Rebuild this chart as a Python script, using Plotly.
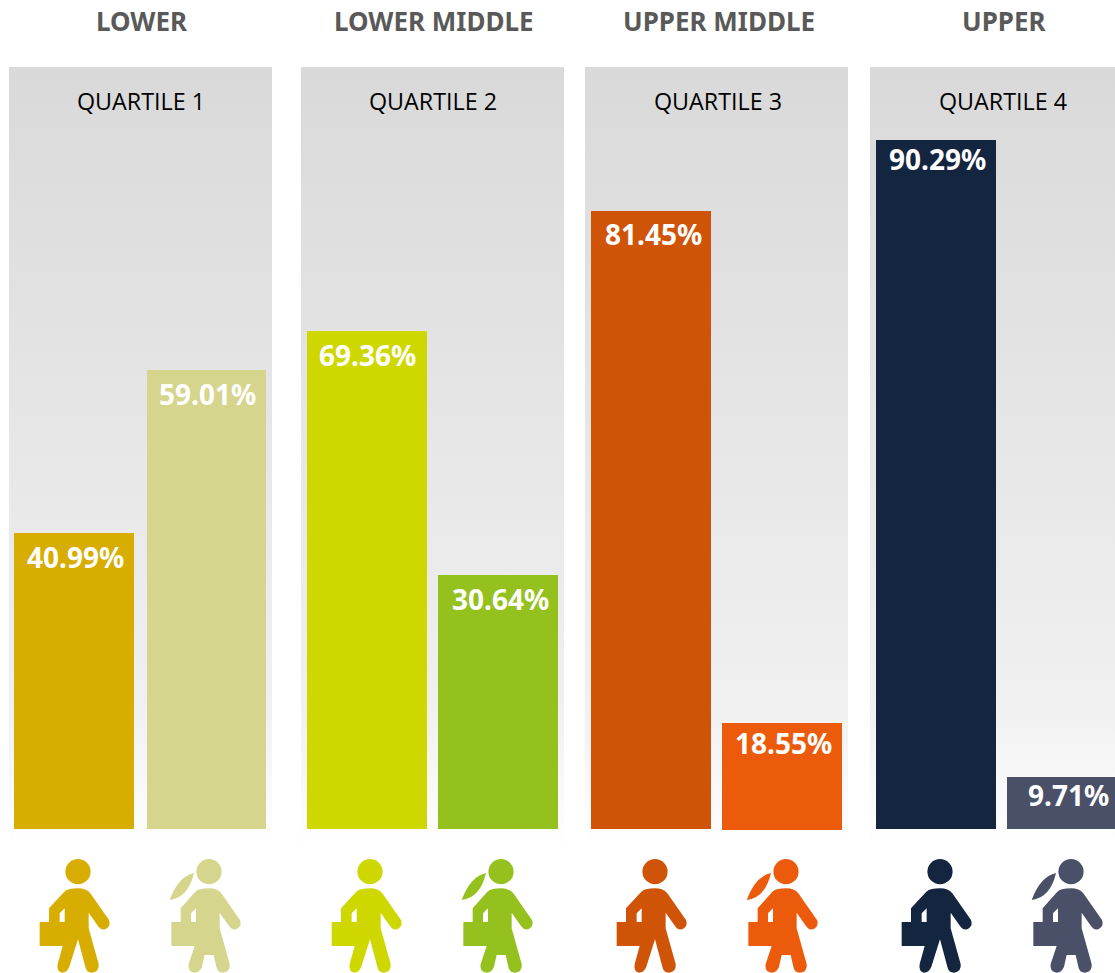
import plotly.graph_objects as go

W, H = 1115, 973
PX_PER_UNIT = 7.63
BASE_PX = 829

group_titles = ["LOWER", "LOWER MIDDLE", "UPPER MIDDLE", "UPPER"]
quartiles = ["QUARTILE 1", "QUARTILE 2", "QUARTILE 3", "QUARTILE 4"]
printed_labels = ["40.99%", "59.01%", "69.36%", "30.64%", "81.45%", "18.55%", "90.29%", "9.71%"]
# bar heights as drawn in the picture (the artwork is not strictly to scale with its labels)
drawn_heights = [38.8, 60.16, 65.27, 33.29, 81.0, 14.02, 90.3, 6.81]
bar_bases = [0, 0, 0, 0, 0, -0.13, 0, 0]
bar_colors = ["#d6ad00", "#d6d58e", "#ced800", "#95c11f", "#d05407", "#ec5b0b", "#14253f", "#4a5068"]
bar_centers = [74, 206.5, 367, 498, 651, 782, 936, 1067]
bar_widths = [120, 119, 120, 120, 120, 120, 120, 120]
label_drop = [24, 24, 24, 24, 23, 20, 19, 18]
label_nudge = [1, 1, 0, 2, 2, 1, 1, 1]
panel_edges = [(9, 272), (301, 564), (585, 848), (870, 1133)]
panel_centers = [141, 433, 718, 1003]


def vy(py):
    return (BASE_PX - py) / PX_PER_UNIT


def py_paper(py):
    return 1 - py / H


fig = go.Figure()

for x0, x1 in panel_edges:
    fig.add_trace(go.Scatter(
        x=[x0, x1, x1, x0, x0],
        y=[vy(67), vy(67), vy(850), vy(850), vy(67)],
        mode="lines", line=dict(width=0), fill="toself", hoverinfo="skip",
        fillgradient=dict(type="vertical",
                          colorscale=[[0, "#ffffff"], [0.19, "#f0f0f0"], [1, "#d9d9d9"]]),
    ))

fig.add_trace(go.Bar(
    x=bar_centers, y=drawn_heights, base=bar_bases, width=bar_widths,
    xaxis="x2", yaxis="y2",
    marker=dict(color=bar_colors, line=dict(width=0)), hoverinfo="skip",
))

annotations = []
for cx, h, b, lab, drop, nudge in zip(bar_centers, drawn_heights, bar_bases, printed_labels,
                                      label_drop, label_nudge):
    annotations.append(dict(x=cx + nudge, y=h + b, xref="x", yref="y", text=lab, showarrow=False,
                            yshift=-drop, xanchor="center", yanchor="middle",
                            font=dict(family="Noto Sans", size=28, color="#ffffff", weight="bold")))
for cx, t in zip(panel_centers, group_titles):
    annotations.append(dict(x=cx + 1, y=vy(21), xref="x", yref="y", text=t, showarrow=False,
                            xanchor="center", yanchor="middle",
                            font=dict(family="Noto Sans", size=26, color="#595959", weight="bold")))
for cx, t in zip(panel_centers, quartiles):
    annotations.append(dict(x=cx, y=vy(101), xref="x", yref="y", text=t, showarrow=False,
                            xanchor="center", yanchor="middle",
                            font=dict(family="Open Sans", size=23.3, color="#000000")))

# Icon outlines, in px relative to the head centre
MALE = [("M", -41/3, 60/3), ("Q", -28/3, 50/3, 0, 50/3), ("Q", 25/3, 50/3, 37/3, 65/3),
        ("L", 93/3, 145/3), ("Q", 99/3, 160/3, 87/3, 170/3), ("Q", 72/3, 180/3, 60/3, 163/3),
        ("L", 32/3, 123/3), ("L", 32/3, 170/3), ("L", 62/3, 277/3), ("Q", 65/3, 300/3, 42/3, 303/3),
        ("Q", 25/3, 303/3, 22/3, 285/3), ("L", 0, 203/3), ("L", -26/3, 285/3),
        ("Q", -33/3, 303/3, -48/3, 303/3), ("Q", -65/3, 300/3, -61/3, 277/3), ("L", -46/3, 223/3),
        ("L", -115/3, 223/3), ("L", -115/3, 151/3), ("L", -87/3, 151/3), ("L", -87/3, 110/3), ("Z",),
        ("M", -55/3, 151/3), ("L", -55/3, 125/3), ("L", -40/3, 110/3), ("L", -40/3, 151/3), ("Z",)]
FEMALE = [("M", -41/3, 60/3), ("Q", -28/3, 50/3, 0, 50/3), ("Q", 25/3, 50/3, 37/3, 65/3),
          ("L", 93/3, 145/3), ("Q", 99/3, 160/3, 87/3, 170/3), ("Q", 72/3, 180/3, 60/3, 163/3),
          ("L", 32/3, 123/3), ("L", 32/3, 170/3), ("L", 62/3, 277/3), ("Q", 65/3, 300/3, 42/3, 303/3),
          ("Q", 25/3, 303/3, 22/3, 285/3), ("L", 14/3, 250/3), ("L", -13/3, 250/3), ("L", -21/3, 285/3),
          ("Q", -28/3, 303/3, -43/3, 303/3), ("Q", -65/3, 300/3, -61/3, 277/3), ("L", -43/3, 223/3),
          ("L", -113/3, 223/3), ("L", -113/3, 151/3), ("L", -85/3, 151/3), ("L", -85/3, 110/3), ("Z",),
          ("M", -54/3, 151/3), ("L", -54/3, 125/3), ("L", -39/3, 110/3), ("L", -39/3, 151/3), ("Z",),
          ("M", -45/3, 4/3), ("Q", -92/3, 14/3, -118/3, 85/3), ("Q", -62/3, 78/3, -45/3, 4/3), ("Z",)]
HEAD_R = 12.6
HEAD_Y = 871.7


def path_for(template, cx):
    parts = []
    for seg in template:
        cmd = seg[0]
        nums = seg[1:]
        pts = []
        for i in range(0, len(nums), 2):
            pts.append(f"{(cx + nums[i]) / W:.5f},{py_paper(HEAD_Y + nums[i + 1]):.5f}")
        parts.append(cmd + " ".join(pts))
    return " ".join(parts)


shapes = []
icon_centers = [78, 209, 370, 501, 655, 786, 940, 1071]
for i, (cx, col) in enumerate(zip(icon_centers, bar_colors)):
    tpl = FEMALE if i % 2 else MALE
    shapes.append(dict(type="path", xref="paper", yref="paper", path=path_for(tpl, cx),
                       fillcolor=col, fillrule="evenodd", line=dict(width=0), layer="above"))
    shapes.append(dict(type="circle", xref="paper", yref="paper",
                       x0=(cx - HEAD_R) / W, x1=(cx + HEAD_R) / W,
                       y0=py_paper(HEAD_Y + HEAD_R), y1=py_paper(HEAD_Y - HEAD_R),
                       fillcolor=col, line=dict(width=0), layer="above"))

x_axis = dict(range=[0, W], visible=False, fixedrange=True)
y_axis = dict(range=[vy(H), vy(0)], visible=False, fixedrange=True)
fig.update_layout(
    width=W, height=H, margin=dict(l=0, r=0, t=0, b=0),
    paper_bgcolor="#ffffff", plot_bgcolor="rgba(0,0,0,0)", showlegend=False,
    xaxis=x_axis, yaxis=y_axis,
    xaxis2=dict(x_axis, overlaying="x"), yaxis2=dict(y_axis, overlaying="y"),
    annotations=annotations, shapes=shapes,
)
fig.write_html("out.html", config={"displayModeBar": False},
               post_script="document.body.style.margin='0';document.body.style.overflow='hidden';")
